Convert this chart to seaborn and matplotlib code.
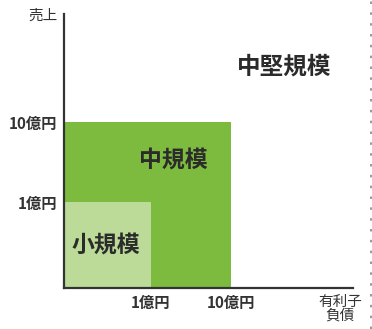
import matplotlib
matplotlib.use("Agg")
import matplotlib.pyplot as plt
import seaborn as sns
from matplotlib.lines import Line2D

# ---- data ----
segments = ["中規模", "小規模"]          # drawn back to front
thresholds = [10, 1]                       # 億円 (sales / debt upper bounds)
seg_colors = ["#7dbb3f", "#bcdb98"]
tick_values = [1, 10]
tick_labels = ["1億円", "10億円"]
outer_label = "中堅規模"
y_label = "売上"
x_label = "有利子\n負債"

sns.set_theme(style="white")
plt.rcParams['font.family'] = ['Noto Sans CJK JP', 'DejaVu Sans']

W, H = 372, 329
fig = plt.figure(figsize=(W / 100, H / 100), dpi=100)
ax = fig.add_axes([64 / W, 41 / H, 289 / W, 274 / H])
ax.set_xscale('log')
ax.set_yscale('log')
x0 = 10 ** (-87 / 80)
y0 = 10 ** (-86 / 80)
ax.set_xlim(x0, 10 ** ((289 - 87) / 80))
ax.set_ylim(y0, 10 ** ((274 - 86) / 80))

for seg, thr, col in zip(segments, thresholds, seg_colors):
    ax.bar(x0, thr - y0, width=thr - x0, bottom=y0, align='edge',
           color=col, edgecolor='none', linewidth=0, zorder=1)

ax.set_xticks(tick_values)
ax.set_xticklabels(tick_labels)
ax.set_yticks(tick_values)
ax.set_yticklabels(tick_labels)
ax.minorticks_off()
ax.tick_params(axis='both', direction='in', length=6, width=1.2,
               color='#333333', labelsize=11, labelcolor='#333333', pad=5)
ax.tick_params(axis='x', pad=5)
for lab in ax.get_xticklabels() + ax.get_yticklabels():
    lab.set_fontweight('bold')

for s in ['top', 'right']:
    ax.spines[s].set_visible(False)
for s in ['left', 'bottom']:
    ax.spines[s].set_color('#333333')
    ax.spines[s].set_linewidth(1.6)
    ax.spines[s].set_zorder(3)

# region labels
ax.text(10 ** 0.275, 10 ** 0.525, segments[0], ha='center', va='center',
        fontsize=16.5, fontweight='bold', color='#2b2b2b', zorder=4)
ax.text(10 ** -0.56, 10 ** -0.54, segments[1], ha='center', va='center',
        fontsize=16.5, fontweight='bold', color='#2b2b2b', zorder=4)
ax.text(10 ** 1.66, 10 ** 1.69, outer_label, ha='center', va='center',
        fontsize=17, fontweight='bold', color='#2b2b2b', zorder=4)

# axis titles
fig.text(58 / W, 1 - 16 / H, y_label, ha='right', va='center',
         fontsize=10.5, color='#333333')
fig.text(340 / W, 1 - 309 / H, x_label, ha='center', va='center',
         fontsize=10.5, color='#333333', linespacing=1.0)

# dotted border on the right
fig.add_artist(Line2D([370.5 / W, 370.5 / W], [0, 1], color='#888888',
                      linewidth=1.2, linestyle=(0, (1.5, 5))))

fig.savefig("out.png", dpi=100, facecolor='white')
